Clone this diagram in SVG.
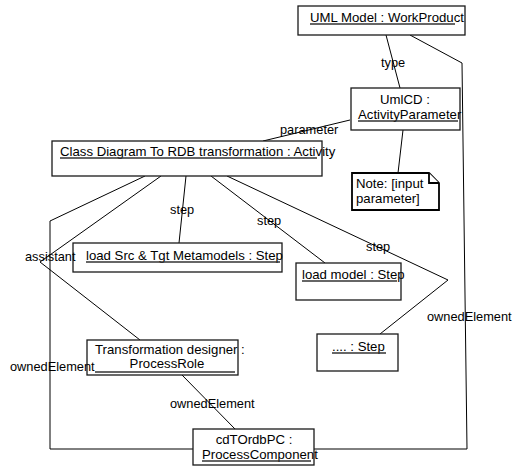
<svg xmlns="http://www.w3.org/2000/svg" width="514" height="466" viewBox="0 0 514 466">
  <style>
    .box { fill: #ffffff; stroke: #1a1a1a; stroke-width: 1.3; }
    .note { fill: #ffffff; stroke: #000000; stroke-width: 1.8; stroke-linejoin: miter; }
    .link { fill: none; stroke: #000000; stroke-width: 1; }
    .t { font-family: "Liberation Sans", Arial, sans-serif; font-size: 13.2px; fill: #000000; }
    .lbl { font-family: "Liberation Sans", Arial, sans-serif; font-size: 12.8px; fill: #000000; }
    .ul { stroke: #333333; stroke-width: 1.3; }
  </style>
  <rect width="514" height="466" fill="#ffffff"/>

  <g id="connectors">
    <!-- type -->
    <line class="link" x1="386" y1="35" x2="400" y2="88"/>
    <!-- ownedElement (WorkProduct to ProcessComponent) -->
    <polyline class="link" points="410,35 462,63 467,449 314,449"/>
    <!-- parameter -->
    <line class="link" x1="350" y1="120" x2="263" y2="141"/>
    <!-- note anchor -->
    <line class="link" x1="403" y1="130" x2="398" y2="173"/>
    <!-- ownedElement (Activity to ProcessComponent) -->
    <polyline class="link" points="145,176 50,221 50,449 193,449"/>
    <!-- assistant -->
    <polyline class="link" points="161,176 40,262 140,340"/>
    <!-- steps -->
    <line class="link" x1="186" y1="176" x2="179" y2="243"/>
    <line class="link" x1="211" y1="176" x2="325" y2="263"/>
    <polyline class="link" points="227,176 448,280 380,334"/>
    <!-- ownedElement (ProcessRole to ProcessComponent) -->
    <line class="link" x1="182" y1="375" x2="235" y2="429"/>
  </g>

  <g id="workProduct">
    <rect class="box" x="298" y="6" width="167" height="29"/>
    <text class="t" x="310" y="22">UML Model : WorkProduct</text>
    <line class="ul" x1="310" y1="24" x2="455" y2="24"/>
  </g>

  <g id="activityParameter">
    <rect class="box" x="351" y="88" width="109" height="42"/>
    <text class="t" x="405" y="104" text-anchor="middle">UmlCD :</text>
    <text class="t" x="358" y="119">ActivityParameter</text>
    <line class="ul" x1="358" y1="121" x2="458" y2="121"/>
  </g>

  <g id="activity">
    <rect class="box" x="52" y="141" width="270" height="35"/>
    <text class="t" x="60" y="156">Class Diagram To RDB transformation : Activity</text>
    <line class="ul" x1="60" y1="158" x2="317" y2="158"/>
  </g>

  <g id="note">
    <path class="note" d="M352,173 H429 L439,183 V210 H352 Z"/>
    <path class="note" d="M429,173 V183 H439" fill="none"/>
    <text class="t" x="356" y="188">Note: [input</text>
    <text class="t" x="356" y="203">parameter]</text>
  </g>

  <g id="stepLoadMetamodels">
    <rect class="box" x="73" y="243" width="209" height="29"/>
    <text class="t" x="86" y="260">load Src &amp; Tgt Metamodels : Step</text>
    <line class="ul" x1="86" y1="262" x2="280" y2="262"/>
  </g>

  <g id="stepLoadModel">
    <rect class="box" x="296" y="263" width="105" height="37"/>
    <text class="t" x="302" y="279">load model : Step</text>
    <line class="ul" x1="302" y1="281" x2="397" y2="281"/>
  </g>

  <g id="stepMore">
    <rect class="box" x="317" y="334" width="81" height="37"/>
    <text class="t" x="332" y="351">.... : Step</text>
    <line class="ul" x1="332" y1="353" x2="386" y2="353"/>
  </g>

  <g id="processRole">
    <rect class="box" x="87" y="340" width="151" height="35"/>
    <text class="t" x="95" y="354">Transformation designer :</text>
    <text class="t" x="167" y="368" text-anchor="middle">ProcessRole</text>
    <line class="ul" x1="95" y1="372" x2="235" y2="372"/>
  </g>

  <g id="processComponent">
    <rect class="box" x="193" y="429" width="121" height="36"/>
    <text class="t" x="254" y="444" text-anchor="middle">cdTOrdbPC :</text>
    <text class="t" x="202" y="459">ProcessComponent</text>
    <line class="ul" x1="202" y1="461" x2="311" y2="461"/>
  </g>

  <!-- role names sit on top of the boxes they touch -->
  <g id="connector-labels">
    <text class="lbl" x="381" y="67">type</text>
    <text class="lbl" x="280" y="134">parameter</text>
    <text class="lbl" x="170" y="214">step</text>
    <text class="lbl" x="257" y="225">step</text>
    <text class="lbl" x="366" y="251">step</text>
    <text class="lbl" x="25" y="261">assistant</text>
    <text class="lbl" x="427" y="321">ownedElement</text>
    <text class="lbl" x="10" y="371">ownedElement</text>
    <text class="lbl" x="170" y="408">ownedElement</text>
  </g>
</svg>
